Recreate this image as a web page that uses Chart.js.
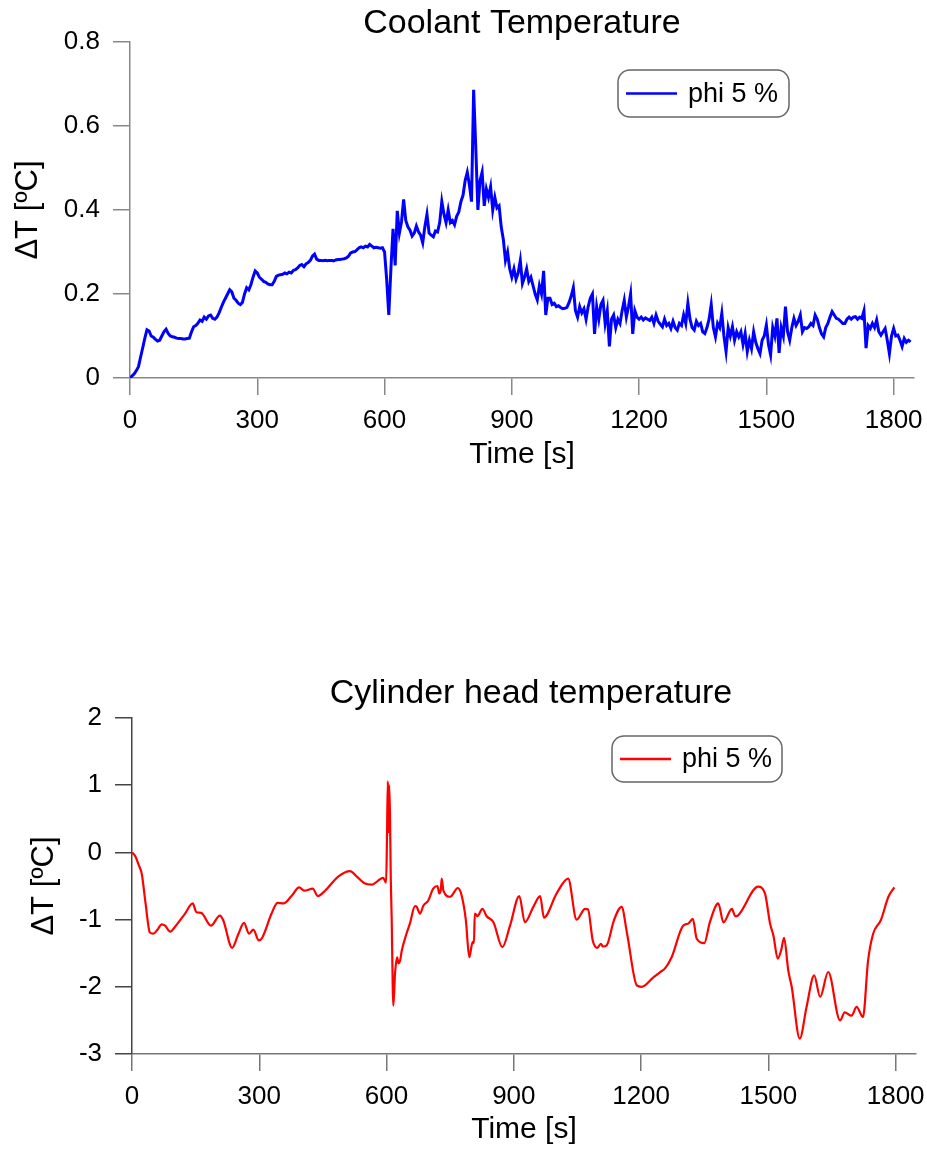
<!DOCTYPE html>
<html>
<head>
<meta charset="utf-8">
<title>Coolant and cylinder head temperature</title>
<script src="https://cdn.jsdelivr.net/npm/chart.js@4.4.1/dist/chart.umd.min.js"></script>
<style>
  body { margin: 0; background: #fff; }
  canvas { position: absolute; left: 0; }
  #coolantChart { top: 0; }
  #headChart { top: 670px; }
</style>
</head>
<body>
<canvas id="coolantChart" width="927" height="480"></canvas>
<canvas id="headChart" width="927" height="480"></canvas>
<script>
// x axis ticks, shared by both plots
const timeTicks = [0, 300, 600, 900, 1200, 1500, 1800];

// coolant: one reading every 5 s, starting at 0 s
const coolantStep = 5;
const coolantDT = [
  0, 0.005, 0.01, 0.018, 0.027, 0.05, 0.072, 0.095, 0.115, 0.112, 0.1, 0.097, 0.092, 0.088, 0.09, 0.1, 0.11, 0.116, 0.106, 0.1,
  0.098, 0.097, 0.095, 0.094, 0.094, 0.093, 0.093, 0.094, 0.095, 0.11, 0.122, 0.125, 0.13, 0.138, 0.135, 0.145, 0.14, 0.148, 0.15, 0.142,
  0.14, 0.145, 0.155, 0.168, 0.18, 0.19, 0.2, 0.21, 0.205, 0.19, 0.185, 0.178, 0.175, 0.18, 0.2, 0.215, 0.21, 0.222, 0.24, 0.255,
  0.25, 0.24, 0.235, 0.23, 0.228, 0.224, 0.222, 0.222, 0.23, 0.242, 0.245, 0.246, 0.247, 0.25, 0.248, 0.252, 0.25, 0.256, 0.258, 0.262,
  0.268, 0.27, 0.265, 0.272, 0.275, 0.28, 0.29, 0.295, 0.283, 0.28, 0.28, 0.279, 0.28, 0.279, 0.28, 0.28, 0.279, 0.281, 0.282, 0.282,
  0.283, 0.284, 0.286, 0.29, 0.298, 0.3, 0.301, 0.305, 0.31, 0.312, 0.31, 0.314, 0.312, 0.318, 0.314, 0.31, 0.311, 0.31, 0.309, 0.31,
  0.3, 0.235, 0.15, 0.26, 0.355, 0.268, 0.398, 0.345, 0.372, 0.425, 0.375, 0.36, 0.352, 0.338, 0.345, 0.362, 0.348, 0.34, 0.322, 0.36,
  0.39, 0.345, 0.34, 0.336, 0.35, 0.348, 0.37, 0.42, 0.39, 0.37, 0.4, 0.37, 0.375, 0.365, 0.385, 0.395, 0.42, 0.435, 0.47, 0.49,
  0.46, 0.42, 0.686, 0.55, 0.4, 0.47, 0.49, 0.41, 0.45, 0.43, 0.455, 0.4, 0.43, 0.405, 0.41, 0.36, 0.33, 0.28, 0.3, 0.26,
  0.24, 0.26, 0.235, 0.25, 0.28, 0.225, 0.24, 0.26, 0.23, 0.24, 0.22, 0.2, 0.186, 0.22, 0.2, 0.255, 0.15, 0.19, 0.19, 0.175,
  0.178, 0.17, 0.172, 0.168, 0.165, 0.166, 0.168, 0.18, 0.195, 0.215, 0.16, 0.145, 0.17, 0.155, 0.165, 0.14, 0.17, 0.19, 0.2, 0.105,
  0.17, 0.14, 0.175, 0.185, 0.13, 0.16, 0.075, 0.14, 0.15, 0.12, 0.14, 0.13, 0.16, 0.185, 0.145, 0.17, 0.2, 0.105, 0.16, 0.145,
  0.14, 0.145, 0.138, 0.143, 0.14, 0.137, 0.145, 0.13, 0.15, 0.135, 0.128, 0.122, 0.14, 0.125, 0.13, 0.118, 0.135, 0.12, 0.114, 0.13,
  0.125, 0.15, 0.13, 0.178, 0.14, 0.12, 0.114, 0.135, 0.125, 0.13, 0.11, 0.106, 0.12, 0.14, 0.175, 0.12, 0.098, 0.13, 0.12, 0.154,
  0.1, 0.063, 0.12, 0.1, 0.122, 0.09, 0.11, 0.098, 0.11, 0.08, 0.106, 0.063, 0.09, 0.07, 0.11, 0.085, 0.07, 0.058, 0.09, 0.1,
  0.126, 0.08, 0.055, 0.12, 0.1, 0.142, 0.06, 0.12, 0.1, 0.17, 0.11, 0.09, 0.12, 0.142, 0.125, 0.135, 0.15, 0.11, 0.12, 0.118,
  0.122, 0.13, 0.125, 0.15, 0.14, 0.12, 0.105, 0.098, 0.12, 0.13, 0.145, 0.158, 0.15, 0.142, 0.14, 0.135, 0.13, 0.13, 0.14, 0.145,
  0.14, 0.145, 0.146, 0.14, 0.145, 0.142, 0.16, 0.071, 0.125, 0.118, 0.13, 0.12, 0.138, 0.11, 0.102, 0.11, 0.118, 0.09, 0.058, 0.1,
  0.118, 0.1, 0.102, 0.09, 0.075, 0.094, 0.085, 0.09, 0.086
];
const coolantYTicks = [0, 0.2, 0.4, 0.6, 0.8];

// cylinder head: time [s] and ΔT [ºC]
const headTime = [
  0, 8, 16, 23, 32, 42, 50, 60, 70, 78, 90, 101, 125, 143, 152, 163, 186, 207, 215, 236,
  251, 264, 276, 286, 299, 307, 329, 343, 357, 376, 394, 406, 426, 438, 455, 486, 514, 530, 548, 565,
  592, 599, 601, 603, 605, 606, 608, 610, 612, 616, 620, 625, 628, 632, 636, 647, 655, 667, 671, 679,
  687, 698, 710, 720, 722, 724, 728, 730, 734, 750, 768, 777, 787, 795, 803, 806, 808, 812, 814, 826,
  836, 852, 873, 891, 913, 926, 946, 962, 971, 1001, 1028, 1048, 1068, 1075, 1086, 1097, 1105, 1110, 1119, 1136,
  1154, 1167, 1190, 1201, 1229, 1245, 1256, 1272, 1299, 1311, 1322, 1331, 1349, 1362, 1382, 1394, 1414, 1422, 1428, 1476,
  1492, 1504, 1512, 1522, 1530, 1537, 1547, 1555, 1574, 1590, 1608, 1622, 1641, 1669, 1680, 1696, 1708, 1723, 1735, 1747,
  1765, 1783, 1797
];
const headDT = [
  0, -0.06, -0.19, -0.32, -0.76, -1.19, -1.21, -1.15, -1.07, -1.09, -1.18, -1.11, -0.91, -0.76, -0.89, -0.9, -1.09, -0.94, -1.01, -1.42,
  -1.21, -1.05, -1.21, -1.15, -1.31, -1.27, -0.91, -0.75, -0.76, -0.65, -0.52, -0.57, -0.54, -0.65, -0.57, -0.36, -0.28, -0.36, -0.46, -0.48,
  -0.38, -0.45, 0.2, 1.06, 0.3, 1.0, 0.6, -0.4, -0.95, -2.28, -1.8, -1.56, -1.65, -1.61, -1.46, -1.21, -1.06, -0.8, -0.81, -0.91,
  -0.79, -0.72, -0.54, -0.5, -0.55, -0.61, -0.55, -0.39, -0.57, -0.66, -0.53, -0.64, -1.01, -1.56, -1.33, -1.35, -0.91, -0.93, -0.95, -0.84,
  -0.95, -1.04, -1.41, -1.09, -0.65, -1.04, -0.81, -0.65, -0.97, -0.61, -0.39, -1.0, -0.84, -0.85, -1.31, -1.42, -1.36, -1.4, -1.38, -1.01,
  -0.81, -1.21, -1.98, -2.0, -1.86, -1.78, -1.73, -1.56, -1.09, -1.06, -0.99, -1.28, -1.35, -1.04, -0.76, -1.04, -0.84, -0.95, -0.94, -0.51,
  -0.61, -1.06, -1.24, -1.58, -1.46, -1.27, -1.76, -2.0, -2.77, -2.3, -1.83, -2.15, -1.78, -2.5, -2.38, -2.43, -2.3, -2.45, -1.61, -1.21,
  -1.01, -0.66, -0.52
];
const headYTicks = [-3, -2, -1, 0, 1, 2];

Chart.defaults.font.family = '"Liberation Sans", Arial, sans-serif';
Chart.defaults.color = "#000";

// draws the plot title and the rounded legend box
const decorPlugin = {
  id: "decor",
  afterDraw(chart, args, opts) {
    const ctx = chart.ctx;
    const ds = chart.data.datasets[0];
    const b = opts.box;
    ctx.save();
    ctx.fillStyle = "#000";
    ctx.font = '34px "Liberation Sans", Arial, sans-serif';
    ctx.textAlign = "center";
    ctx.textBaseline = "alphabetic";
    ctx.fillText(opts.title, opts.titleX, opts.titleY);

    const r = 12;
    ctx.beginPath();
    ctx.moveTo(b.x + r, b.y);
    ctx.arcTo(b.x + b.w, b.y, b.x + b.w, b.y + b.h, r);
    ctx.arcTo(b.x + b.w, b.y + b.h, b.x, b.y + b.h, r);
    ctx.arcTo(b.x, b.y + b.h, b.x, b.y, r);
    ctx.arcTo(b.x, b.y, b.x + b.w, b.y, r);
    ctx.closePath();
    ctx.strokeStyle = "#666";
    ctx.lineWidth = 1.5;
    ctx.stroke();

    const midY = b.y + b.h / 2;
    ctx.beginPath();
    ctx.moveTo(b.x + 8, midY);
    ctx.lineTo(b.x + 59, midY);
    ctx.strokeStyle = ds.borderColor;
    ctx.lineWidth = 2.5;
    ctx.stroke();

    ctx.font = '27px "Liberation Sans", Arial, sans-serif';
    ctx.textAlign = "left";
    ctx.fillText(ds.label, b.x + 70, midY + 8);
    ctx.restore();
  }
};

function axes(yTicks, axisColor, yAxisColor, yWidth, xHeight, yTitlePad, xTitlePad) {
  return {
    x: {
      type: "linear",
      min: 0,
      max: 1848,
      afterBuildTicks: s => { s.ticks = timeTicks.map(v => ({ value: v })); },
      afterFit: s => { s.height = xHeight; s.paddingLeft = 0; s.paddingRight = 0; },
      ticks: { font: { size: 26 }, color: "#000", padding: 10, maxRotation: 0, callback: v => String(v) },
      grid: { drawOnChartArea: false, tickLength: 17, color: axisColor, lineWidth: 1.5 },
      border: { color: axisColor, width: 1.5 },
      title: { display: true, text: "Time [s]", font: { size: 30 }, color: "#000", padding: { top: 0, bottom: xTitlePad } }
    },
    y: {
      min: yTicks[0],
      max: yTicks[yTicks.length - 1],
      afterBuildTicks: s => { s.ticks = yTicks.map(v => ({ value: v })); },
      afterFit: s => { s.width = yWidth; s.paddingTop = 0; s.paddingBottom = 0; },
      ticks: { font: { size: 26 }, color: "#000", padding: 13, callback: v => String(v) },
      grid: { drawOnChartArea: false, tickLength: 17, color: yAxisColor, lineWidth: 1.5 },
      border: { color: yAxisColor, width: 1.5 },
      title: { display: true, text: "ΔT [ºC]", font: { size: 31 }, color: "#000", padding: { top: yTitlePad, bottom: 0 } }
    }
  };
}

new Chart(document.getElementById("coolantChart"), {
  type: "line",
  data: {
    datasets: [{
      label: "phi 5 %",
      data: coolantDT.map((v, i) => ({ x: i * coolantStep, y: v })),
      borderColor: "#0000ff",
      borderWidth: 3,
      pointRadius: 0,
      tension: 0
    }]
  },
  options: {
    responsive: false,
    animation: false,
    devicePixelRatio: 1,
    layout: { padding: { top: 42, right: 13, bottom: 0, left: 0 } },
    plugins: {
      legend: { display: false },
      tooltip: { enabled: false },
      decor: { title: "Coolant Temperature", titleX: 522, titleY: 33, box: { x: 618, y: 70, w: 171, h: 47 } }
    },
    scales: axes(coolantYTicks, "#888", "#888", 130, 102, 10, 7)
  },
  plugins: [decorPlugin]
});

new Chart(document.getElementById("headChart"), {
  type: "line",
  data: {
    datasets: [{
      label: "phi 5 %",
      data: headTime.map((t, i) => ({ x: t, y: headDT[i] })),
      borderColor: "#ff0000",
      borderWidth: 2.2,
      pointRadius: 0,
      cubicInterpolationMode: "monotone"
    }]
  },
  options: {
    responsive: false,
    animation: false,
    devicePixelRatio: 1,
    layout: { padding: { top: 48, right: 11, bottom: 0, left: 0 } },
    plugins: {
      legend: { display: false },
      tooltip: { enabled: false },
      decor: { title: "Cylinder head temperature", titleX: 531, titleY: 33, box: { x: 612, y: 66, w: 170, h: 46 } }
    },
    scales: axes(headYTicks, "#777", "#444", 132, 96, 26, 2)
  },
  plugins: [decorPlugin]
});
</script>
</body>
</html>
